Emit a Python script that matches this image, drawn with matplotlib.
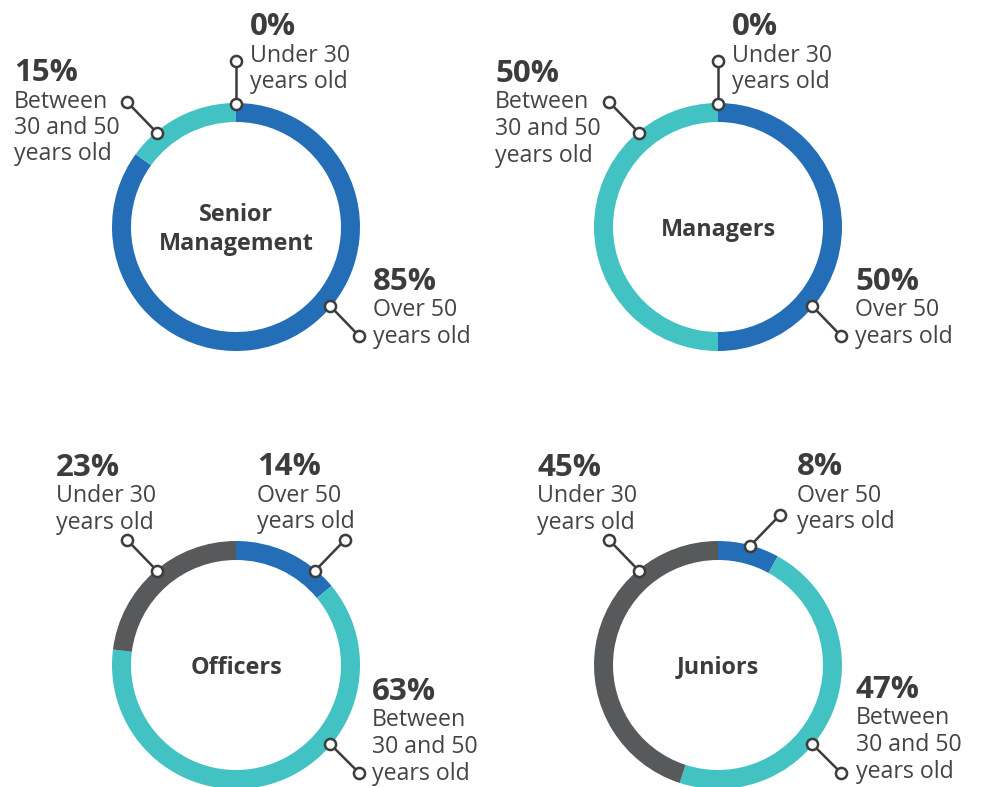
import numpy as np
import matplotlib
matplotlib.use("Agg")
import matplotlib.pyplot as plt

# data
groups = ["Senior\nManagement", "Managers", "Officers", "Juniors"]
over50 = [85, 50, 14, 8]
between = [15, 50, 63, 47]
under30 = [0, 0, 23, 45]
cat_text = ["Over 50\nyears old", "Between\n30 and 50\nyears old", "Under 30\nyears old"]

colors = ["#236EB7", "#43C2C3", "#58595B"]
txt_col = "#3C3C3C"
desc_col = "#444444"

centers = [(236, 227), (718, 227), (236, 665), (718, 665)]
R, W = 124, 19

# leader layout per donut: category index -> (angle from top clockwise, dx, dy, text x, baseline y)
layout = [
    {0: (130, 29, 30, 373, 290), 1: (320, -30, -31, 14, 81), 2: (0, 0, -43, 250, 35)},
    {0: (130, 29, 30, 855, 290), 1: (320, -30, -31, 495, 82), 2: (0, 0, -43, 732, 35)},
    {0: (40, 30, -31, 257, 475), 1: (130, 29, 29, 372, 700), 2: (320, -30, -31, 56, 476)},
    {0: (15, 30, -31, 797, 475), 1: (130, 29, 29, 856, 698), 2: (320, -30, -31, 537, 476)},
]

plt.rcParams["font.family"] = ["Open Sans", "DejaVu Sans"]

fig = plt.figure(figsize=(9.81, 7.87), dpi=100)
ax = fig.add_axes([0, 0, 1, 1])

for g in range(4):
    vals = [over50[g], between[g], under30[g]]
    cx, cy = centers[g]
    # y axis is inverted, so counterclockwise in data is clockwise on screen
    ax.pie(vals, colors=colors, center=(cx, cy), radius=R, startangle=-90,
           counterclock=True, wedgeprops=dict(width=W, linewidth=0))
    ax.text(cx, cy + 2.5, groups[g], ha="center", va="center", fontsize=16.8,
            fontweight="bold", color=txt_col, linespacing=1.3)

    for k, (ang, dx, dy, tx, ty) in layout[g].items():
        a = np.radians(ang)
        x0 = cx + (R - 1) * np.sin(a)
        y0 = cy - (R - 1) * np.cos(a)
        ax.plot([x0, x0 + dx], [y0, y0 + dy], "-", color=txt_col, lw=1.8,
                marker="o", ms=8, mfc="white", mec=txt_col, mew=1.8, zorder=5)
        ax.text(tx, ty, f"{vals[k]}%", ha="left", va="baseline", fontsize=22.5,
                fontweight="bold", color=txt_col)
        for i, line in enumerate(cat_text[k].split("\n")):
            ax.text(tx, ty + 26.5 * (i + 1), line, ha="left", va="baseline",
                    fontsize=16.7, color=desc_col)

ax.set_xlim(0, 981)
ax.set_ylim(787, 0)
ax.set_aspect("equal")
ax.axis("off")

fig.savefig("out.png", dpi=100, facecolor="white")
